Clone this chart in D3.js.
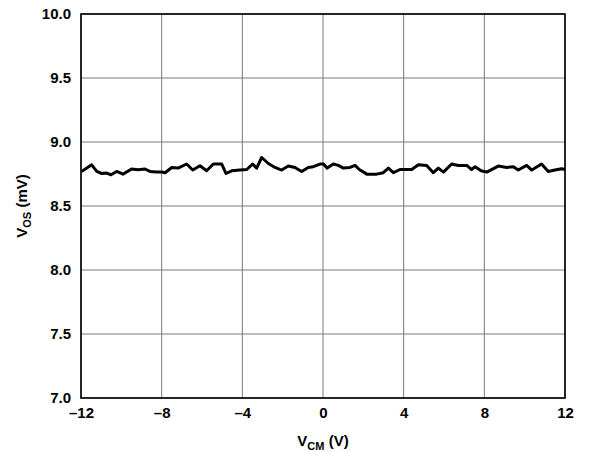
<!DOCTYPE html>
<html>
<head>
<meta charset="utf-8">
<script src="https://cdn.jsdelivr.net/npm/d3@7"></script>
<style>
  html, body { margin: 0; padding: 0; background: #fff; }
  svg { display: block; }
  text { font-family: "Liberation Sans", Arial, sans-serif; font-weight: bold; fill: #000; }
</style>
</head>
<body>
<svg id="chart" width="595" height="452"></svg>
<script>
// Data
const vcm = [-11.97,-11.47,-11.22,-10.97,-10.73,-10.51,-10.23,-9.92,-9.49,-9.17,-8.83,-8.58,-8.25,-8.0,-7.83,-7.50,-7.19,-6.76,-6.46,-6.10,-5.77,-5.44,-5.02,-4.81,-4.53,-4.12,-3.78,-3.49,-3.29,-3.04,-2.71,-2.38,-2.05,-1.72,-1.39,-1.06,-0.73,-0.48,-0.15,0.02,0.21,0.51,0.76,1.01,1.34,1.59,1.80,2.17,2.66,2.99,3.24,3.49,3.82,4.40,4.73,5.14,5.47,5.72,5.97,6.38,6.71,7.13,7.37,7.54,7.84,8.12,8.69,9.11,9.44,9.68,10.10,10.35,10.84,11.17,11.50,11.83,12.0];
const vos = [8.770,8.822,8.770,8.754,8.757,8.744,8.770,8.749,8.789,8.783,8.789,8.770,8.765,8.765,8.760,8.801,8.796,8.828,8.781,8.814,8.775,8.828,8.828,8.754,8.775,8.781,8.785,8.828,8.796,8.879,8.832,8.801,8.781,8.812,8.801,8.770,8.801,8.807,8.828,8.828,8.796,8.828,8.817,8.796,8.801,8.817,8.785,8.749,8.749,8.760,8.796,8.760,8.785,8.785,8.822,8.817,8.760,8.796,8.765,8.828,8.817,8.817,8.785,8.807,8.775,8.765,8.812,8.801,8.807,8.781,8.817,8.781,8.828,8.770,8.781,8.791,8.785];
const xTicks = [-12,-8,-4,0,4,8,12];
const xTickLabels = ["\u201312","\u20138","\u20134","0","4","8","12"];
const yTicks = [7.0,7.5,8.0,8.5,9.0,9.5,10.0];
const yTickLabels = ["7.0","7.5","8.0","8.5","9.0","9.5","10.0"];

const svg = d3.select("#chart");
const m = {left: 81, right: 565, top: 14, bottom: 398};
const x = d3.scaleLinear().domain([-12, 12]).range([m.left, m.right]);
const y = d3.scaleLinear().domain([7, 10]).range([m.bottom, m.top]);

// grid
const grid = svg.append("g");
grid.selectAll("line.v").data(xTicks).join("line")
  .attr("x1", d => x(d)).attr("x2", d => x(d))
  .attr("y1", m.top).attr("y2", m.bottom)
  .attr("stroke", "#7a7a7a").attr("stroke-width", 1);
grid.selectAll("line.h").data(yTicks).join("line")
  .attr("x1", m.left).attr("x2", m.right)
  .attr("y1", d => y(d)).attr("y2", d => y(d))
  .attr("stroke", "#7a7a7a").attr("stroke-width", 1);

// frame
svg.append("rect")
  .attr("x", m.left).attr("y", m.top)
  .attr("width", m.right - m.left).attr("height", m.bottom - m.top)
  .attr("fill", "none").attr("stroke", "#000").attr("stroke-width", 1.6);

// axes (labels only)
const xAxis = d3.axisBottom(x).tickValues(xTicks)
  .tickFormat((d, i) => xTickLabels[i]).tickSize(0).tickPadding(9);
const gx = svg.append("g").attr("transform", `translate(0,${m.bottom})`).call(xAxis);
gx.select(".domain").remove();
gx.selectAll("text").style("font-size", "15px").style("font-weight", "bold")
  .style("font-family", "Liberation Sans, Arial, sans-serif").attr("fill", "#000");

const yAxis = d3.axisLeft(y).tickValues(yTicks)
  .tickFormat((d, i) => yTickLabels[i]).tickSize(0).tickPadding(10);
const gy = svg.append("g").attr("transform", `translate(${m.left},0)`).call(yAxis);
gy.select(".domain").remove();
gy.selectAll("text").style("font-size", "15px").style("font-weight", "bold")
  .style("font-family", "Liberation Sans, Arial, sans-serif").attr("fill", "#000");

// data line
const line = d3.line().x((d, i) => x(vcm[i])).y(d => y(d));
svg.append("path").datum(vos)
  .attr("d", line)
  .attr("fill", "none").attr("stroke", "#000").attr("stroke-width", 3)
  .attr("stroke-linejoin", "round");

// axis titles
const xt = svg.append("text").attr("x", x(0)).attr("y", 446)
  .attr("text-anchor", "middle").style("font-size", "15px");
xt.append("tspan").text("V");
xt.append("tspan").attr("dy", 4).style("font-size", "11px").text("CM");
xt.append("tspan").attr("dy", -4).text(" (V)");

const yt = svg.append("text")
  .attr("transform", `translate(27,${y(8.5)}) rotate(-90)`)
  .attr("text-anchor", "middle").style("font-size", "15px");
yt.append("tspan").text("V");
yt.append("tspan").attr("dy", 4).style("font-size", "11px").text("OS");
yt.append("tspan").attr("dy", -4).text(" (mV)");
</script>
</body>
</html>
